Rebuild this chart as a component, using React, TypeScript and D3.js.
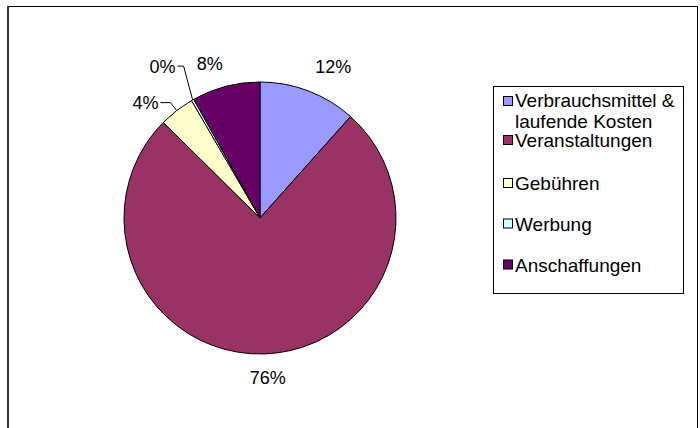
import React from "react";
import * as d3 from "d3";

const categories = [
  "Verbrauchsmittel & laufende Kosten",
  "Veranstaltungen",
  "Gebühren",
  "Werbung",
  "Anschaffungen",
];
const values = [11.6, 75.8, 4.2, 0.3, 8.1];
const colors = ["#9999FF", "#993366", "#FFFFCC", "#CCFFFF", "#660066"];
const legendLines = [["Verbrauchsmittel &", "laufende Kosten"], ["Veranstaltungen"], ["Gebühren"], ["Werbung"], ["Anschaffungen"]];

// label layout: radial distance beyond radius, angular nudge (deg), leader length (0 = none)
const labelLayout = [
  { dr: 26, da: 5, leader: 0 },
  { dr: 18, da: -1, leader: 0 },
  { dr: 10, da: 0, leader: 10 },
  { dr: 34, da: 3, leader: 6 },
  { dr: 20, da: -3.5, leader: 0 },
];

const W = 700, H = 428;
const cx = 260, cy = 218, R = 136;
const FONT = "Liberation Sans, Arial, sans-serif";

export default function App() {
  const total = d3.sum(values);
  const pie = d3.pie<number>().sort(null).value((d) => d).startAngle(0).endAngle(2 * Math.PI);
  const arcs = pie(values);
  const arc = d3.arc<d3.PieArcDatum<number>>().innerRadius(0).outerRadius(R);
  const polar = (a: number, r: number): [number, number] => [cx + r * Math.sin(a), cy - r * Math.cos(a)];

  const legendX = 493, legendY = 86, legendW = 190, legendH = 207;
  const baselines = [107, 147, 190, 230.5, 271.5];

  return (
    <svg width={W} height={H} style={{ position: "absolute", left: 0, top: 0, background: "#fff" }} fontFamily={FONT}>
      <rect x={0} y={0} width={W} height={H} fill="#fff" />
      <line x1={7} y1={6.5} x2={697} y2={6.5} stroke="#000" strokeWidth={1} />
      <line x1={8} y1={6} x2={8} y2={H} stroke="#333" strokeWidth={2} />
      <line x1={697.5} y1={6} x2={697.5} y2={H} stroke="#000" strokeWidth={1} />
      <g transform={`translate(${cx},${cy})`}>
        {arcs.map((a, i) => (
          <path key={i} d={arc(a) || ""} fill={colors[i]} stroke="#000" strokeWidth={1} strokeLinejoin="round" />
        ))}
      </g>
      {arcs.map((a, i) => {
        const mid = (a.startAngle + a.endAngle) / 2;
        const lay = labelLayout[i];
        const pct = d3.format(".0%")(values[i] / total);
        if (lay.leader > 0) {
          const edge = polar(mid, R);
          const elbow = polar(mid + (lay.da * Math.PI) / 180, R + lay.dr);
          const end: [number, number] = [elbow[0] - lay.leader, elbow[1]];
          return (
            <g key={i}>
              <polyline points={`${edge[0]},${edge[1]} ${elbow[0]},${elbow[1]} ${end[0]},${end[1]}`} fill="none" stroke="#000" strokeWidth={1} />
              <text x={end[0] - 2} y={end[1] + 6.5} textAnchor="end" fontSize={18} fill="#000">{pct}</text>
            </g>
          );
        }
        const p = polar(mid + (lay.da * Math.PI) / 180, R + lay.dr + 6);
        return (
          <text key={i} x={p[0]} y={p[1] + 6.5} textAnchor="middle" fontSize={18} fill="#000">{pct}</text>
        );
      })}
      <rect x={legendX + 0.5} y={legendY + 0.5} width={legendW} height={legendH} fill="#fff" stroke="#000" strokeWidth={1} />
      {categories.map((c, i) => (
        <g key={c}>
          <rect x={503.5} y={baselines[i] - 11.5 + (i === 0 ? 1 : 0)} width={9} height={9} fill={colors[i]} stroke="#000" strokeWidth={1} />
          {legendLines[i].map((ln, j) => (
            <text key={j} x={515} y={baselines[i] + j * 21} fontSize={19} fill="#000">{ln}</text>
          ))}
        </g>
      ))}
    </svg>
  );
}
